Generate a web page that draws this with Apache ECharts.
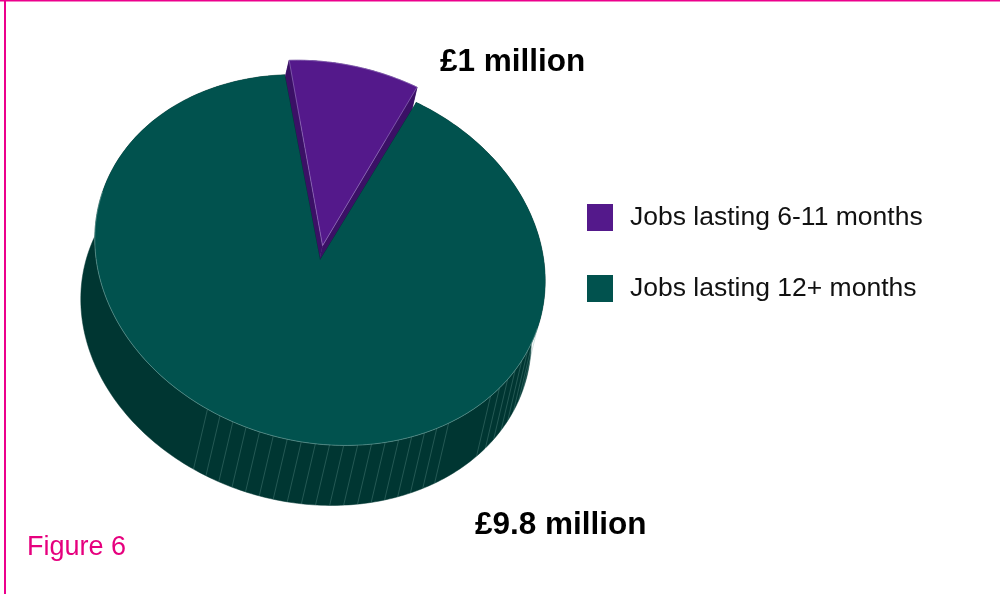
<!DOCTYPE html>
<html>
<head>
<meta charset="utf-8">
<script src="https://cdn.jsdelivr.net/npm/echarts@6/dist/echarts.min.js"></script>
<style>
  html, body { margin: 0; padding: 0; background: #fff; }
  #chart { width: 1000px; height: 594px; }
</style>
</head>
<body>
<div id="chart"></div>
<script>
// Spending on jobs by duration (£ million)
const categories = ['Jobs lasting 6-11 months', 'Jobs lasting 12+ months'];
const values = [1, 9.8];
const valueLabels = values.map(v => '£' + v + ' million');
const figureTitle = 'Figure 6';

const sliceColors = ['#54198B', '#01524E'];
const sideColors = ['#3B1066', '#003632'];
const FONT = '"Liberation Sans", Arial, sans-serif';

// Tilted pie drawn as an ellipse with an extruded side wall
const PIE = { cx: 320, cy: 260, rx: 228, ry: 182, tilt: 15, depthX: -14, depthY: 60, start: -20.6 };
const EXPLODE = [0.08, 0];   // radial offset, as a share of the radius
const PAD = [0, 0.5];        // angular inset at each end of a slice (deg)

const total = values.reduce((a, b) => a + b, 0);
const startAngles = [];
let acc = PIE.start;
values.forEach(v => { startAngles.push(acc); acc += v / total * 360; });

const rad = d => d * Math.PI / 180;
const cosT = Math.cos(rad(PIE.tilt)), sinT = Math.sin(rad(PIE.tilt));

// point on the rim at an angle measured clockwise from the top
function rimPoint(deg, ox, oy, down) {
  const lx = PIE.rx * Math.sin(rad(deg)), ly = -PIE.ry * Math.cos(rad(deg));
  const x = ox + lx * cosT - ly * sinT, y = oy + lx * sinT + ly * cosT;
  return down ? [x + PIE.depthX, y + PIE.depthY] : [x, y];
}
function sliceOrigin(i, a0, a1) {
  const mid = (a0 + a1) / 2, e = EXPLODE[i];
  const lx = e * PIE.rx * Math.sin(rad(mid)), ly = -e * PIE.ry * Math.cos(rad(mid));
  return [PIE.cx + lx * cosT - ly * sinT, PIE.cy + lx * sinT + ly * cosT];
}
function inFacetRange(a) {
  const n = ((a % 360) + 360) % 360;
  return (n > 93 && n < 121) || (n > 132 && n < 200);
}

function makeRender(i) {
  return function (params, api) {
    const v = api.value(0);
    const s0 = startAngles[i], s1 = s0 + v / total * 360;
    const o = sliceOrigin(i, s0, s1);
    const ox = o[0], oy = o[1];
    const a0 = s0 + PAD[i], a1 = s1 - PAD[i];
    const children = [];
    const side = { fill: sideColors[i], stroke: sideColors[i], lineWidth: 0.5 };
    const n = Math.ceil(a1 - a0);
    const step = (a1 - a0) / n;
    const c0 = [ox, oy], c1 = [ox + PIE.depthX, oy + PIE.depthY];

    // radial walls
    [a0, a1].forEach(a => children.push({
      type: 'polygon',
      shape: { points: [c0, rimPoint(a, ox, oy, false), rimPoint(a, ox, oy, true), c1] },
      style: side
    }));
    // outer wall as a single band between the top and bottom rims
    const band = [];
    for (let k = 0; k <= n; k++) band.push(rimPoint(a0 + k * step, ox, oy, false));
    for (let k = n; k >= 0; k--) band.push(rimPoint(a0 + k * step, ox, oy, true));
    children.push({ type: 'polygon', shape: { points: band }, style: side });

    // facet edges on the front of the wall
    if (i === 1) {
      for (let a = 93.5; a < 200; a += 3.6) {
        if (!inFacetRange(a)) continue;
        const p = rimPoint(a, ox, oy, false), q = rimPoint(a, ox, oy, true);
        children.push({
          type: 'line',
          shape: { x1: p[0], y1: p[1], x2: q[0], y2: q[1] },
          style: { stroke: 'rgba(110,160,155,0.55)', lineWidth: 0.6 }
        });
      }
    }
    // top face
    const top = [c0];
    for (let k = 0; k <= n; k++) top.push(rimPoint(a0 + k * step, ox, oy, false));
    children.push({
      type: 'polygon',
      shape: { points: top },
      style: i === 0
        ? { fill: sliceColors[i], stroke: '#9C7EC4', lineWidth: 0.6 }
        : { fill: sliceColors[i] }
    });
    // light rim edge along the front
    if (i === 1) {
      const rim = [];
      for (let a = 93; a <= 273; a += 1) rim.push(rimPoint(a, ox, oy, false));
      children.push({
        type: 'polyline',
        shape: { points: rim },
        style: { stroke: '#6FA29E', lineWidth: 0.6, fill: null }
      });
    }
    return { type: 'group', children };
  };
}

const chart = echarts.init(document.getElementById('chart'), null, { renderer: 'canvas' });
chart.setOption({
  animation: false,
  backgroundColor: '#fff',
  color: sliceColors,
  legend: {
    data: categories,
    orient: 'vertical',
    left: 582,
    top: 199,
    icon: 'rect',
    itemWidth: 26,
    itemHeight: 27,
    itemGap: 44,
    selectedMode: false,
    textStyle: { fontSize: 26.5, lineHeight: 27, color: '#111', fontFamily: FONT, padding: [0, 0, 0, 12] }
  },
  series: categories.map((name, i) => ({
    type: 'custom',
    name,
    coordinateSystem: 'none',
    silent: true,
    itemStyle: { color: sliceColors[i] },
    renderItem: makeRender(i),
    data: [[values[i]]]
  })),
  graphic: [
    { type: 'line', shape: { x1: 5, y1: 0, x2: 5, y2: 594 }, style: { stroke: '#EC008C', lineWidth: 2 } },
    { type: 'line', shape: { x1: 0, y1: 0.5, x2: 1000, y2: 0.5 }, style: { stroke: '#EC008C', lineWidth: 2 } },
    { type: 'text', x: 440, y: 62, style: { text: valueLabels[0], fontSize: 31.5, fontWeight: 'bold', fontFamily: FONT, fill: '#000', align: 'left', verticalAlign: 'middle' } },
    { type: 'text', x: 475, y: 525, style: { text: valueLabels[1], fontSize: 31.5, fontWeight: 'bold', fontFamily: FONT, fill: '#000', align: 'left', verticalAlign: 'middle' } },
    { type: 'text', x: 27, y: 548, style: { text: figureTitle, fontSize: 27, fontFamily: FONT, fill: '#E6007E', align: 'left', verticalAlign: 'middle' } }
  ]
});
</script>
</body>
</html>
